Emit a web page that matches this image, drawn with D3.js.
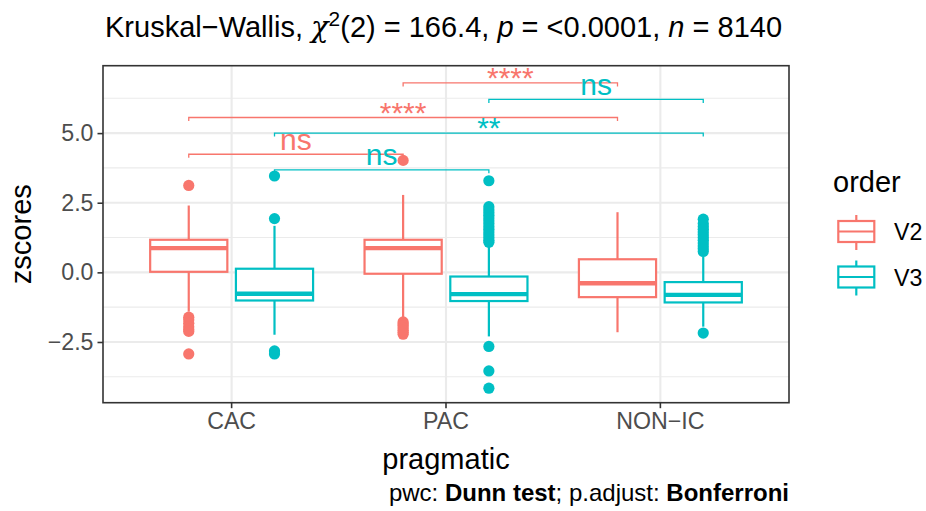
<!DOCTYPE html>
<html><head><meta charset="utf-8">
<script src="https://cdn.jsdelivr.net/npm/d3@7"></script>
<style>body{margin:0;background:#fff;} text{font-family:"Liberation Sans",Arial,Helvetica,sans-serif;}</style>
</head><body>
<svg id="chart" width="926" height="511"></svg>
<script>
// ---- data ----
const categories = ["CAC", "PAC", "NON-IC"];
const orders = ["V2", "V3"];
const colors = ["#F8766D", "#00BFC4"];
// box statistics, one value per category, for each order
const v2Q1 = [0.02, -0.05, -0.89];
const v2Median = [0.87, 0.87, -0.39];
const v2Q3 = [1.17, 1.17, 0.47];
const v2WhiskerLow = [-1.41, -1.71, -2.15];
const v2WhiskerHigh = [2.40, 2.78, 2.16];
const v2Outliers = [
  [3.12, -1.61, -1.70, -1.83, -1.95, -2.05, -2.12, -2.93],
  [4.02, -1.78, -1.85, -1.92, -2.00, -2.08, -2.15, -2.22],
  []
];
const v3Q1 = [-1.01, -1.03, -1.08];
const v3Median = [-0.77, -0.78, -0.81];
const v3Q3 = [0.13, -0.15, -0.35];
const v3WhiskerLow = [-2.24, -2.30, -1.95];
const v3WhiskerHigh = [1.67, 0.99, 0.57];
const v3Outliers = [
  [3.46, 1.93, -2.82, -2.93],
  [3.29, 2.36, 2.25, 2.15, 2.05, 1.95, 1.85, 1.75, 1.65, 1.55, 1.45, 1.35, 1.25, 1.15, 1.08, -2.66, -3.54, -4.16],
  [1.91, 1.75, 1.65, 1.55, 1.45, 1.35, 1.25, 1.15, 1.05, 0.95, 0.85, 0.75, -2.18]
];
// pairwise comparisons (Dunn test)
const cmpGroup1 = ["CAC", "CAC", "PAC", "CAC", "CAC", "PAC"];
const cmpGroup2 = ["PAC", "NON-IC", "NON-IC", "PAC", "NON-IC", "NON-IC"];
const cmpOrder = ["V2", "V2", "V2", "V3", "V3", "V3"];
const cmpY = [4.24, 5.56, 6.80, 3.68, 5.00, 6.21];
const cmpLabel = ["ns", "****", "****", "ns", "**", "ns"];
const yTicks = [-2.5, 0, 2.5, 5.0];
const yMinorTicks = [-3.75, -1.25, 1.25, 3.75, 6.25];
const yLimits = [-4.68, 7.42];

// ---- layout ----
const svg = d3.select("#chart");
const P = {l: 103, r: 789, t: 65.7, b: 402.7};
const x = d3.scaleBand().domain(categories).range([P.l, P.r]).paddingInner(0).paddingOuter(0.1);
const y = d3.scaleLinear().domain(yLimits).range([P.b, P.t]);
const step = x.step();
const xc = c => x(c) + x.bandwidth() / 2;
const dodge = d3.scaleBand().domain(orders).range([-0.4 * step, 0.4 * step]);
const xo = (c, o) => xc(c) + dodge(o) + dodge.bandwidth() / 2;
const boxW = 0.36 * step;
const fontBase = 29;

// panel background + grid
svg.append("rect").attr("x", P.l).attr("y", P.t).attr("width", P.r - P.l).attr("height", P.b - P.t).attr("fill", "#fff");
const g = svg.append("g");
g.selectAll(".minor").data(yMinorTicks).join("line")
  .attr("x1", P.l).attr("x2", P.r).attr("y1", d => y(d)).attr("y2", d => y(d))
  .attr("stroke", "#EBEBEB").attr("stroke-width", 1.1);
g.selectAll(".major").data(yTicks).join("line")
  .attr("x1", P.l).attr("x2", P.r).attr("y1", d => y(d)).attr("y2", d => y(d))
  .attr("stroke", "#EBEBEB").attr("stroke-width", 2.1);
g.selectAll(".vmajor").data(categories).join("line")
  .attr("x1", d => xc(d)).attr("x2", d => xc(d)).attr("y1", P.t).attr("y2", P.b)
  .attr("stroke", "#EBEBEB").attr("stroke-width", 2.1);

// boxes
const stats = [
  {q1: v2Q1, med: v2Median, q3: v2Q3, lo: v2WhiskerLow, hi: v2WhiskerHigh, out: v2Outliers},
  {q1: v3Q1, med: v3Median, q3: v3Q3, lo: v3WhiskerLow, hi: v3WhiskerHigh, out: v3Outliers}
];
const boxes = [];
orders.forEach((o, oi) => categories.forEach((c, ci) => {
  const s = stats[oi];
  boxes.push({c, o, col: colors[oi], q1: s.q1[ci], med: s.med[ci], q3: s.q3[ci], lo: s.lo[ci], hi: s.hi[ci], out: s.out[ci]});
}));
const bg = svg.append("g");
boxes.forEach(b => {
  const cx = xo(b.c, b.o);
  const gg = bg.append("g");
  gg.append("line").attr("x1", cx).attr("x2", cx).attr("y1", y(b.q3)).attr("y2", y(b.hi)).attr("stroke", b.col).attr("stroke-width", 2.2);
  gg.append("line").attr("x1", cx).attr("x2", cx).attr("y1", y(b.q1)).attr("y2", y(b.lo)).attr("stroke", b.col).attr("stroke-width", 2.2);
  gg.append("rect").attr("x", cx - boxW / 2).attr("y", y(b.q3)).attr("width", boxW).attr("height", y(b.q1) - y(b.q3))
    .attr("fill", "#fff").attr("stroke", b.col).attr("stroke-width", 2.2);
  gg.append("line").attr("x1", cx - boxW / 2).attr("x2", cx + boxW / 2).attr("y1", y(b.med)).attr("y2", y(b.med)).attr("stroke", b.col).attr("stroke-width", 4.4);
  gg.selectAll("circle").data(b.out).join("circle").attr("cx", cx).attr("cy", d => y(d)).attr("r", 5.6).attr("fill", b.col);
});

// comparison brackets
const tip = 3.5;
const cg = svg.append("g");
cmpLabel.forEach((lab, i) => {
  const col = colors[orders.indexOf(cmpOrder[i])];
  const x1 = xo(cmpGroup1[i], cmpOrder[i]), x2 = xo(cmpGroup2[i], cmpOrder[i]);
  const yy = y(cmpY[i]);
  cg.append("path").attr("d", `M${x1},${yy + tip}V${yy}H${x2}V${yy + tip}`)
    .attr("fill", "none").attr("stroke", col).attr("stroke-width", 1.3);
  const isStar = lab.indexOf("*") >= 0;
  cg.append("text").attr("x", (x1 + x2) / 2).attr("y", isStar ? yy + 5 : yy - 4.5)
    .attr("text-anchor", "middle").attr("fill", col).attr("font-size", 30).text(lab);
});

// panel border
svg.append("rect").attr("x", P.l).attr("y", P.t).attr("width", P.r - P.l).attr("height", P.b - P.t)
  .attr("fill", "none").attr("stroke", "#333333").attr("stroke-width", 1.6);

// axes
const yAxis = d3.axisLeft(y).tickValues(yTicks).tickFormat(d3.format(".1f")).tickSize(5.5).tickPadding(4);
const ya = svg.append("g").attr("transform", `translate(${P.l},0)`).call(yAxis);
ya.select(".domain").remove();
ya.selectAll(".tick line").attr("stroke", "#333333").attr("stroke-width", 1.6);
ya.selectAll(".tick text").attr("fill", "#4D4D4D").attr("font-size", 23.2).attr("font-family", "Liberation Sans, Arial, sans-serif")
  .text(d => d3.format(".1f")(d).replace("-", "\u2212"));
const xAxis = d3.axisBottom(x).tickSize(5.5).tickPadding(4);
const xa = svg.append("g").attr("transform", `translate(0,${P.b})`).call(xAxis);
xa.select(".domain").remove();
xa.selectAll(".tick line").attr("stroke", "#333333").attr("stroke-width", 1.6);
xa.selectAll(".tick text").attr("fill", "#4D4D4D").attr("font-size", 23.2).attr("font-family", "Liberation Sans, Arial, sans-serif")
  .text(d => d.replace("-", "\u2212"));

// axis titles
svg.append("text").attr("x", (P.l + P.r) / 2).attr("y", 469).attr("text-anchor", "middle").attr("font-size", fontBase).attr("fill", "#000").text("pragmatic");
svg.append("text").attr("transform", `translate(31,${(P.t + P.b) / 2}) rotate(-90)`).attr("text-anchor", "middle").attr("font-size", fontBase).attr("fill", "#000").text("zscores");

// title
const title = svg.append("text").attr("x", 105).attr("y", 37).attr("font-size", fontBase).attr("fill", "#000");
title.append("tspan").text("Kruskal\u2212Wallis, ");
title.append("tspan").attr("font-style", "italic").attr("font-family", "DejaVu Serif, serif").text("\u03C7");
title.append("tspan").attr("font-size", fontBase * 0.72).attr("dy", -11).text("2");
title.append("tspan").attr("dy", 11).text("(2) = 166.4, ");
title.append("tspan").attr("font-style", "italic").text("p");
title.append("tspan").text(" = <0.0001, ");
title.append("tspan").attr("font-style", "italic").text("n");
title.append("tspan").text(" = 8140");

// caption
const cap = svg.append("text").attr("x", 789).attr("y", 501).attr("text-anchor", "end").attr("font-size", 24).attr("fill", "#000");
cap.append("tspan").text("pwc: ");
cap.append("tspan").attr("font-weight", "bold").text("Dunn test");
cap.append("tspan").text("; p.adjust: ");
cap.append("tspan").attr("font-weight", "bold").text("Bonferroni");

// legend
const lg = svg.append("g");
lg.append("text").attr("x", 833).attr("y", 192).attr("font-size", fontBase).attr("fill", "#000").text("order");
orders.forEach((o, i) => {
  const top = 215 + i * 45.5;
  const cx = 856.3, w = 36;
  const gg = lg.append("g");
  gg.append("line").attr("x1", cx).attr("x2", cx).attr("y1", top).attr("y2", top + 35).attr("stroke", colors[i]).attr("stroke-width", 2.2);
  gg.append("rect").attr("x", cx - w / 2).attr("y", top + 6).attr("width", w).attr("height", 21).attr("fill", "#fff").attr("stroke", colors[i]).attr("stroke-width", 2.2);
  gg.append("line").attr("x1", cx - w / 2).attr("x2", cx + w / 2).attr("y1", top + 16.5).attr("y2", top + 16.5).attr("stroke", colors[i]).attr("stroke-width", 2.2);
  gg.append("text").attr("x", 894).attr("y", top + 25).attr("font-size", 23.2).attr("fill", "#000").text(o);
});
</script>
</body></html>
